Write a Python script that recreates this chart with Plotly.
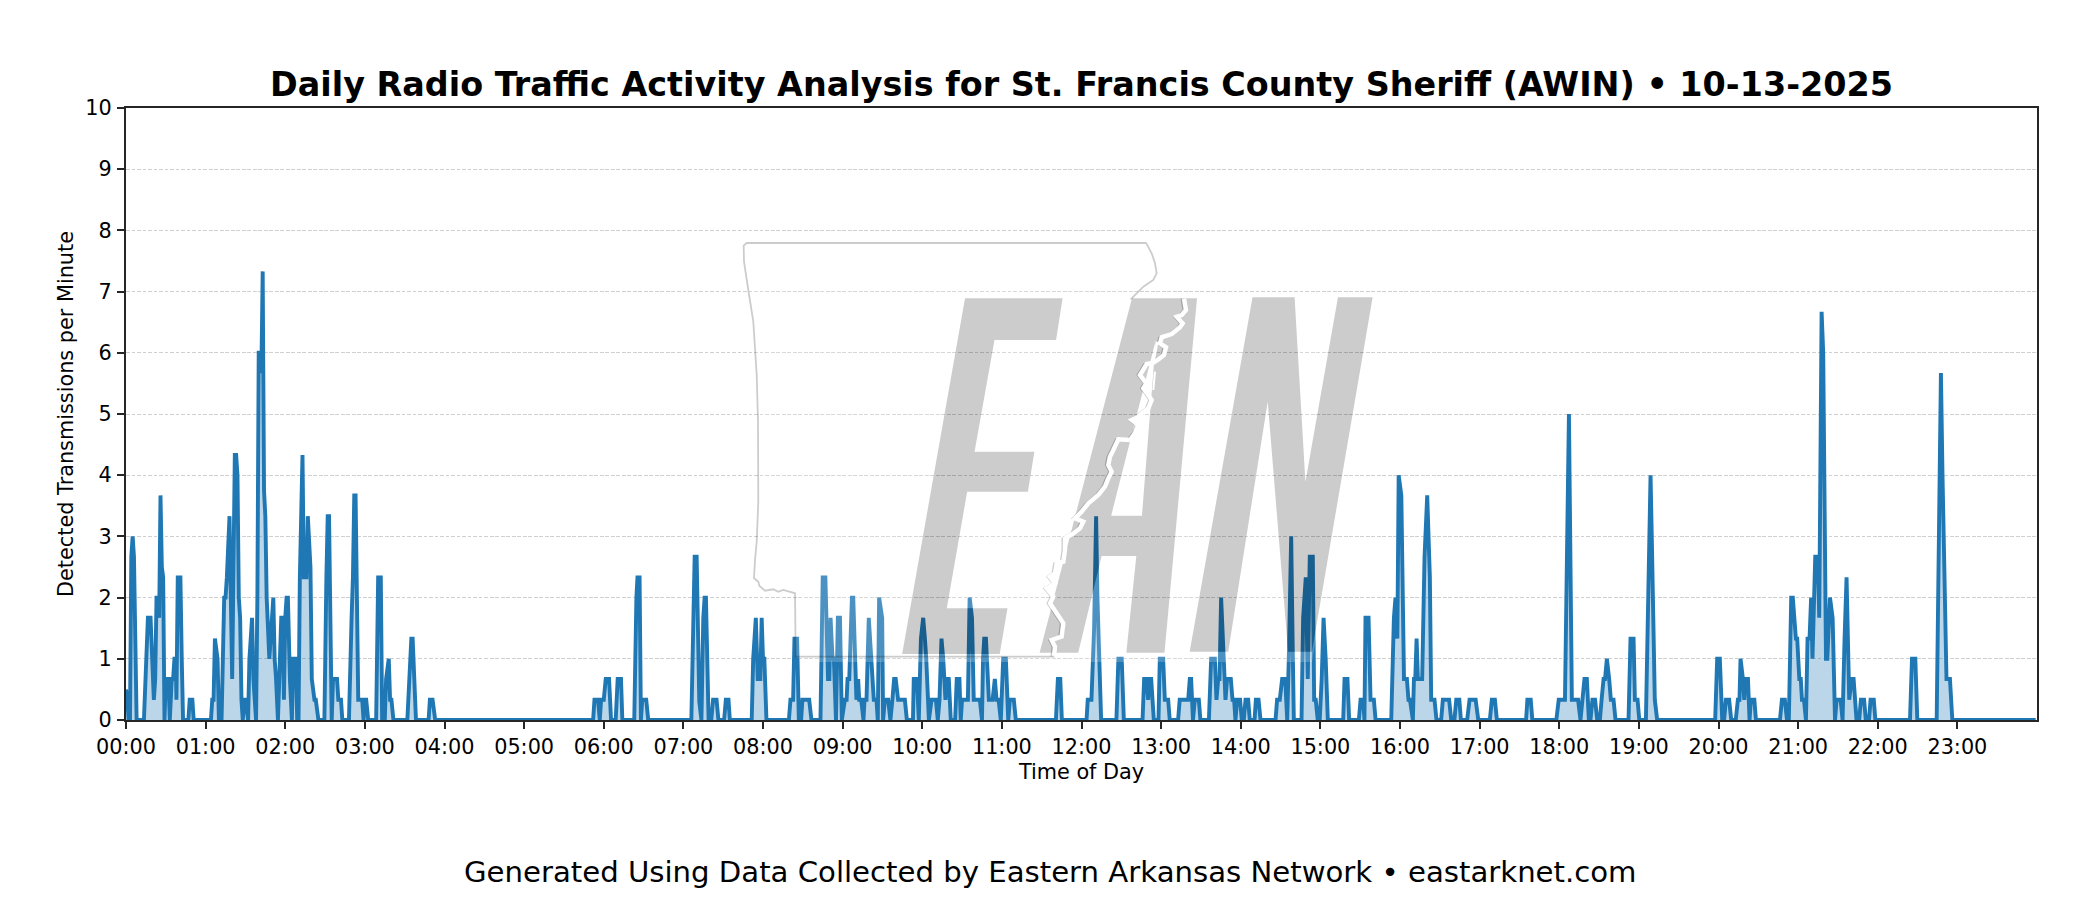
import plotly.graph_objects as go

TITLE = "Daily Radio Traffic Activity Analysis for St. Francis County Sheriff (AWIN) \u2022 10-13-2025"
FOOTER = "Generated Using Data Collected by Eastern Arkansas Network \u2022 eastarknet.com"
X_LABEL = "Time of Day"
Y_LABEL = "Detected Transmissions per Minute"

# x-axis ticks
tick_minutes = [h * 60 for h in range(24)]
tick_labels = [f"{h:02d}:00" for h in range(24)]
y_ticks = list(range(0, 11))

# activity series: minute of day and transmissions per minute
minutes_00_03 = [0,1,2,3,4,5,6,8,13.5,14.5,16.5,18.5,20,21,22,23,24,25,26,27,28,29,30,32,33,34.5,35.5,36.5,37.5,38,39,41,42,43,47,48,50,51,
    64,65,66,67,69,70,72,74,75,76,78,80,82,83,84,85,86,87,88,89,90,92,93,95,96,98,99,100,101,102,103,104,105,106,108,109,111,112,113,114.5,116,117,118,119,120,121,122,123.5,125,126,128,129,130,131,133,134,136,137,139,140,142,143,145,
    149.5,151,152,153,155,156,159,160,162,163,168,170,171,172,173,175,178,179,180,181,182.5,188.5,190,192,193,195,196,198,199,200,201.5,212,215,216,218.5,228,229,231,233]
values_00_03 = [.5,.33,0,0,2.67,3,2.67,0,0,.67,1.67,1.67,.9,.33,.67,2,2,1.67,3.67,2.5,2.33,0,.67,.67,0,.67,.67,1,1,.33,2.33,2.33,1,0,0,.33,.33,0,
    0,.33,.33,1.33,1,0,0,2,2,2.33,3.33,.67,4.33,4.33,4,2,1.67,.33,0,.33,.33,0,1,1.67,.67,0,2,6,6,5.67,7.33,3.75,3.33,2,1,1.33,2,1,.7,0,1.33,1.67,1.67,.33,1.67,2,2,.67,0,1,1,0,0,2.33,4.33,2.33,2.33,3.33,2.5,.67,.33,.33,0,
    0,2.33,3.33,3.33,0,.67,.67,.33,.33,0,0,1.67,2.33,3.67,3.67,.33,.33,0,.33,.33,0,0,2.33,2.33,0,0,.67,1,.33,.33,0,0,1.33,1.33,0,0,.33,.33,0]

minutes_06_12 = [352,353,355.7,357,358,360,361.5,364,365.5,369,370.5,373,374,383,384.6,385.4,387,388,389,392,393.5,
    426,428.5,430,432,433.6,435,436,437,439,441,442.4,445,446.4,450.7,452,454,455,
    471.5,472.6,474.6,476,478,479,480,481,482.6,499.5,500.7,502.7,503.7,505.7,507,508.7,509.7,514.8,516.5,
    523.3,525,527,529,530,530.9,532.4,533.4,535,536.4,538,539.4,541.7,543,543.7,545,547,548,550.4,551.7,552.5,554,555.7,556.5,558,559.7,562,563.5,565.5,566.5,567.5,569.8,570.5,571.8,574.3,576,577.5,578.8,580,581.8,586.9,588.4,
    593,593.6,596,597.4,599,600.7,602,603,605,607,610.3,611.7,613,614.5,615.8,617.5,618.8,620,621.5,624.8,626,628,629,630,634.4,635.7,637.5,638.8,643.4,645,645.8,646.7,648,650.2,653,654.7,656,657.5,659.2,661,663,664.8,666,669,670.5,
    700.7,702.2,704,705.2]
values_06_12 = [0,.33,.33,0,.33,.33,.67,.67,0,0,.67,.67,0,0,2,2.33,2.33,0,.33,.33,0,
    0,2.67,2.67,.3,0,1.67,2,2,0,0,.33,.33,0,0,.33,.33,0,
    0,1,1.67,.67,.67,1.67,1,1,0,0,.33,.33,1.33,1.33,0,0,.33,.33,0,
    0,2.33,2.33,.67,.67,1.67,1,1,0,1.67,1.67,0,.33,.33,.67,.67,2,2,.33,.67,.33,.33,0,.33,.33,1.67,.67,.33,.33,0,2,1.67,0,.33,.33,0,.33,.67,.67,.33,.33,0,
    0,.67,.67,0,1.33,1.67,1.33,1,0,.33,.33,0,.33,1.33,1,.33,.67,.67,0,0,.67,.67,0,.33,.33,2,1.67,.33,.33,0,1,1.33,1.33,.33,.33,.67,.33,.33,0,1,1,0,.33,.33,0,
    0,.67,.67,0]

minutes_12_18 = [723.8,724.7,727.5,729.5,731,732,734.8,746.3,747.8,750.3,751.9,766,767.2,769,770.2,771.2,772.5,774.5,778,779,781.5,782.8,785.3,786.5,
    792.8,794,800.4,801.6,802.6,804,805.4,808.4,809.6,816,817.7,820.5,821.7,823,824,825.2,826.5,828.5,829.7,832.5,833.8,835,836,837.3,839.5,840.8,842.3,843.6,845.6,846.8,850.4,851.4,853.4,854.9,
    866.2,867.4,869.4,871.2,873.5,875,876.2,878,879,880,885.8,887,889,890.5,892,894.3,895.3,896.5,898,899.5,901,902.4,904,905.6,917.2,918.2,920.4,921.7,
    929,930.3,932.3,933.2,934,936.3,937.8,940.3,941.6,953.4,955.4,956.6,958,959,961,963,965.2,966.4,967.5,969.7,970.5,971.5,972.5,973.5,976.7,978.5,980.5,981.8,982.5,983.5,986,987.5,
    991,992.3,997,998.6,1001,1002.4,1004.7,1005.9,1010.6,1012.4,1017,1019,1027.7,1029.2,1031.5,1033,1055,1056,1058.5,1059.7,1077.8,1079.6,1084.3,1087.3,1089.5,1094.2,1096]
values_12_18 = [0,.33,.33,1.5,3.33,2,0,0,1,1,0,0,.67,.67,.33,.67,.67,0,0,1,1,.33,.33,0,
    0,.33,.33,.67,.67,0,.33,.33,0,0,1,1,.33,.67,.67,2,1.4,.33,.67,.67,.33,.33,0,.33,.33,0,0,.33,.33,0,0,.33,.33,0,
    0,.33,.33,.67,.67,0,1,3,1.4,0,0,1.67,2.33,.67,2.67,2.67,.33,.33,0,0,.67,1.67,1,0,0,.67,.67,0,
    0,.33,.33,0,1.67,1.67,.33,.33,0,0,1.67,2,1.33,4,3.67,.67,.67,.33,.33,0,.67,.67,1.33,.67,.67,2.67,3.67,2.33,2.33,.33,.33,0,
    0,.33,.33,0,0,.33,.33,0,0,.33,.33,0,0,.33,.33,0,0,.33,.33,0,0,.33,.33,5,.33,.33,0]

minutes_18_24 = [1099,1100.8,1102.3,1103.5,1105,1107,1108.6,1110.6,1111.9,1113.4,1114.5,1115.9,1117.6,1118.9,1120.9,1122.4,
    1132.2,1133.7,1136,1137,1139,1140.3,1145.3,1147,1148.8,1150,1152,1153.8,1197.5,1199,1201,1202.8,1204.2,1205.6,1208,1209.6,
    1213,1214.6,1215.8,1216.6,1218.4,1219.4,1220.4,1222.2,1223.4,1224.4,1227,1228.2,1246.3,1247.8,1250,1251.6,1253,1254.8,1256,1258.3,1259.3,1260.9,1262,1262.9,1264.4,1265.9,1267.1,1268.6,1269.8,1270.8,1272.9,1274.9,1275.9,1277.7,1278.9,1281,1282,1284,1285.3,1286,1287.8,1289,1292,1293.5,1295,1296.5,1298.5,1300.3,1301.8,1304,1306,1307.3,1309.7,1311,
    1313.4,1314.6,1317,1318.2,1344.3,1345.8,1348.3,1349.8,1364.4,1366,1367.6,1368.8,1371.8,1374.4,1376.2,1439]
values_18_24 = [.67,.67,0,0,.33,.33,0,0,.33,.67,.67,1,.67,.33,.33,0,
    0,1.33,1.33,.33,.33,0,0,2,4,2.67,.33,0,0,1,1,0,0,.33,.33,0,
    0,.33,.33,1,.67,.33,.67,.67,0,.33,.33,0,0,.33,.33,0,0,2,2,1.33,1.33,.67,.67,.33,.33,0,1.33,1.33,2,1,2.67,2.67,1.67,6.67,6,1,1,2,1.67,1.67,0,.33,.33,0,1.33,2.33,.33,.67,.67,0,0,.33,.33,0,
    0,.33,.33,0,0,1,1,0,0,3,5.67,4,.67,.67,0,0]

minutes = minutes_00_03 + minutes_06_12 + minutes_12_18 + minutes_18_24
values = values_00_03 + values_06_12 + values_12_18 + values_18_24

# ---- watermark artwork, traced in page pixels ----
PL, PT, PW, PH = 126, 108, 1911, 612
def to_paper(pts):
    return [((x - PL) / PW, (PT + PH - y) / PH) for x, y in pts]
def path(pts, close=False):
    s = "M" + "L".join(f"{x:.5f},{y:.5f}" for x, y in to_paper(pts))
    return s + ("Z" if close else "")
def from_full(pts):
    return [(720 + x / 2.306, 230 + y / 3) for x, y in pts]
def from_z6(pts):
    return [(1040 + x / 3, 240 + y / 3) for x, y in pts]
def from_z7(pts):
    return [(1030 + x / 3, 450 + y / 3) for x, y in pts]

letter_e = from_full([(565,205),(790,205),(775,330),(633,330),(587,665),(725,665),(710,785),(570,785),(523,1135),(663,1135),(645,1272),(420,1272)])
letter_a = from_full([(737,1268),(950,205),(1100,205),(1025,1268),(937,1268),(960,978),(880,978),(826,1268)])
letter_a_hole = from_full([(1005,330),(973,857),(902,857)])
letter_n = from_full([(1083,1265),(1228,202),(1325,202),(1350,755),(1425,202),(1505,202),(1365,1265),(1310,1265),(1263,515),(1172,1265)])

state_west = [(795.7,656.7),(795,593.3),(783.3,590),(778.3,591.7),(773.3,589.3),(765,590.7),(759.5,586),(758.3,581.7),(754,578),(755,560),(756.7,541.7),(758.3,501.7),(758,421.7),(756.7,375),(753.3,321.7),(748.3,290),(744,261.7),(743.7,245.7),(746.7,243),(1146,243)]
state_ne = from_z6([(318,8),(335,40),(345,70),(350,100),(340,120),(310,140),(290,160),(272,178)])
river_n = from_z6([(432,176),(438,210),(425,225),(410,230),(428,250),(420,262),(395,282),(365,292),(360,310),(378,322),(372,345),(355,358),(340,368),(320,372),(300,405),(315,425),(325,420),(310,445),(325,465),(335,480),(325,505),(305,520),(295,530),(275,540),(295,555),(285,580),(270,600),(235,598),(220,630)])
river_s = from_z7([(240,20),(235,45),(245,65),(235,85),(225,110),(205,135),(175,160),(155,185),(135,205),(160,215),(150,235),(130,250),(105,265),(105,300),(100,335),(80,340),(75,370),(60,380),(75,400),(50,415),(70,440),(60,460),(80,490),(100,520),(95,560),(65,570),(75,590),(72,620)])
south_edge = [(1054,656.7),(795.7,656.7)]
branch_1 = from_z6([(352,305),(340,365)])
branch_2 = from_z6([(345,395),(340,450)])
veil_edge = [(1373,296),(1312,662),(806,662),(795.7,656.7)]
WM_GREY = "rgba(0,0,0,0.2)"
river = river_n + river_s
river_shadow = [(x - 2.6, y) for x, y in river]

def shape(d, fill=None, line=None, width=0):
    return dict(type="path", path=d, xref="paper", yref="paper", layer="above",
                fillcolor=fill or "rgba(0,0,0,0)",
                line=dict(color=line or "rgba(0,0,0,0)", width=width))

glyphs = path(letter_e, True) + path(letter_a, True) + path(letter_a_hole, True) + path(letter_n, True)
veil = path(state_west + state_ne + veil_edge, True) + glyphs
shapes = [
    shape(veil, fill="rgba(255,255,255,0.2)"),
    shape(glyphs, fill=WM_GREY),
    shape(path(river_shadow), line=WM_GREY, width=1.8),
    shape(path(river), line="rgb(255,255,255)", width=4.4),
    shape(path(branch_1), line="rgb(255,255,255)", width=2.5),
    shape(path(branch_2), line="rgb(255,255,255)", width=2),
    shape(path(state_west + state_ne), line=WM_GREY, width=1.8),
    shape(path(river_s[-1:] + south_edge), line=WM_GREY, width=1.8),
]

FONT = "DejaVu Sans"
fig = go.Figure(go.Scatter(
    x=minutes, y=values, mode="lines",
    line=dict(color="#1f77b4", width=3.9),
    fill="tozeroy", fillcolor="rgba(31,119,180,0.3)",
    showlegend=False,
))
axis_common = dict(showline=True, linecolor="#262626", linewidth=2, mirror=True,
                   ticks="outside", ticklen=7, tickwidth=2, tickcolor="#262626",
                   tickfont=dict(family=FONT, size=20.8, color="#000"), zeroline=False)
fig.update_xaxes(range=[0, 1440], tickmode="array", tickvals=tick_minutes, ticktext=tick_labels,
                 showgrid=False, tickangle=0,
                 title=dict(text=X_LABEL, standoff=6, font=dict(family=FONT, size=20.8, color="#000")),
                 **axis_common)
fig.update_yaxes(range=[0, 10], tickmode="array", tickvals=y_ticks,
                 showgrid=True, gridcolor="#d0d0d0", gridwidth=1, griddash="3.85px,1.66px",
                 ticklabelstandoff=1,
                 title=dict(text=Y_LABEL, standoff=6, font=dict(family=FONT, size=20.8, color="#000")),
                 **axis_common)
fig.update_layout(
    width=2100, height=900,
    margin=dict(l=PL, r=2100 - PL - PW, t=PT, b=900 - PT - PH, autoexpand=False),
    plot_bgcolor="white", paper_bgcolor="white",
    font=dict(family=FONT),
    title=dict(text=f"<b>{TITLE}</b>", xref="paper", x=0.5, xanchor="center", yref="container", y=0.906, yanchor="middle",
               font=dict(family=FONT, size=33.4, color="#000")),
    shapes=shapes,
    annotations=[dict(text=FOOTER, xref="paper", yref="paper", x=(1050 - PL) / PW, y=(PT + PH - 872) / PH,
                      xanchor="center", yanchor="middle", showarrow=False,
                      font=dict(family=FONT, size=29.17, color="#000"))],
)
fig.write_html("out.html", post_script="document.body.style.margin='0';", config={"displayModeBar": False})
